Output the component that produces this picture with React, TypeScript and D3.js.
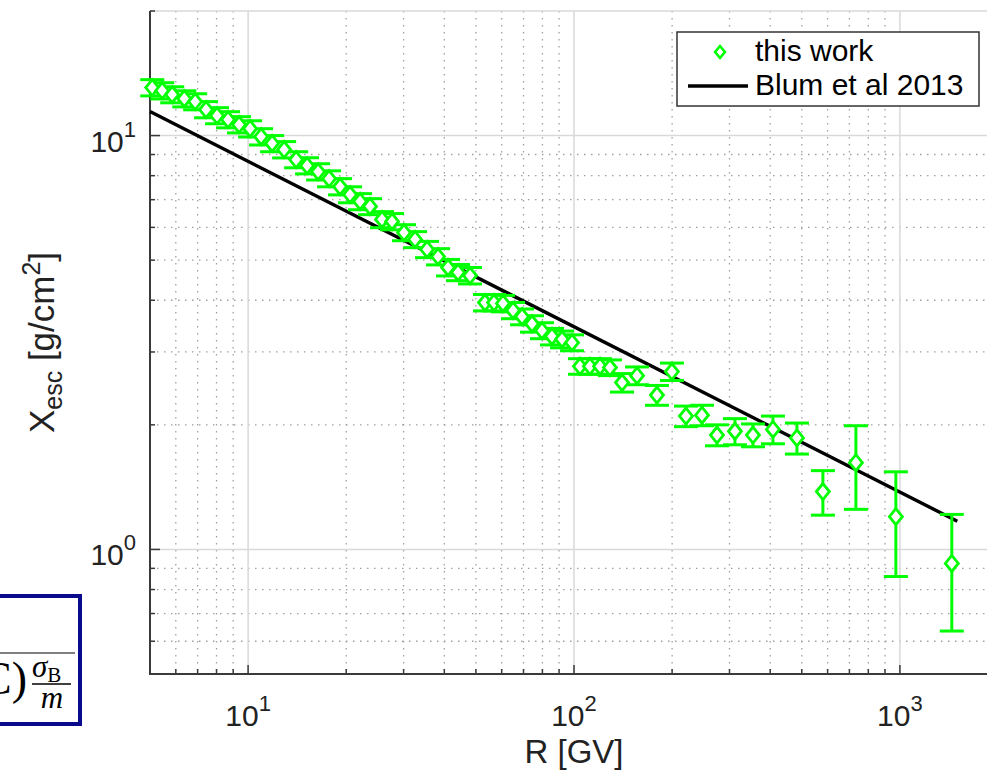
import React from "react";
import * as d3 from "d3";

// rigidity bins [GV], escape grammage [g/cm^2] and its error
const rigidity = [
  5.08, 5.45, 5.85, 6.37, 6.88, 7.43, 8.03, 8.68, 9.38, 10.14,
  10.96, 11.85, 12.9, 14.04, 15.17, 16.4, 17.72, 19.15, 20.55, 22.06,
  23.66, 25.76, 27.65, 30.09, 32.53, 35.41, 38.27, 41.07, 44.07, 47.97,
  53.33, 56.83, 60.55, 65.01, 69.27, 74.33, 79.77, 85.59, 91.88, 98.6,
  104.3, 111.9, 120.2, 128.9, 140.4, 156.1, 179.7, 199.7, 220.6, 247.0,
  274.6, 311.8, 354.1, 407.8, 483.1, 580.4, 732.8, 971.9, 1443,
];
const xesc = [
  13.06, 12.84, 12.56, 12.28, 12.08, 11.56, 11.18, 10.93, 10.63, 10.39,
  9.94, 9.57, 9.25, 8.75, 8.46, 8.18, 7.87, 7.53, 7.2, 6.93,
  6.74, 6.27, 6.2, 5.83, 5.61, 5.31, 5.1, 4.8, 4.67, 4.59,
  3.95, 3.95, 3.93, 3.78, 3.65, 3.51, 3.38, 3.27, 3.22, 3.16,
  2.77, 2.77, 2.77, 2.75, 2.53, 2.63, 2.36, 2.69, 2.1, 2.11,
  1.89, 1.93, 1.89, 1.95, 1.86, 1.38, 1.62, 1.2, 0.925,
];
const xescErr = [
  0.59, 0.58, 0.56, 0.55, 0.54, 0.52, 0.5, 0.49, 0.48, 0.47,
  0.45, 0.43, 0.42, 0.39, 0.38, 0.37, 0.35, 0.34, 0.32, 0.31,
  0.3, 0.28, 0.28, 0.26, 0.25, 0.24, 0.23, 0.22, 0.21, 0.21,
  0.18, 0.18, 0.18, 0.17, 0.16, 0.16, 0.15, 0.15, 0.15, 0.14,
  0.12, 0.12, 0.12, 0.12, 0.13, 0.13, 0.13, 0.13, 0.12, 0.12,
  0.11, 0.14, 0.12, 0.15, 0.16, 0.17, 0.37, 0.34, 0.29,
];

// Blum et al 2013 power law, end points
const blumR = [5, 1500];
const blumX = [11.43, 1.17];

const xMajor = [10, 100, 1000];
const xMinor = [6, 7, 8, 9, 20, 30, 40, 50, 60, 70, 80, 90, 200, 300, 400, 500, 600, 700, 800, 900];
const yMajor = [1, 10];
const yMinor = [0.6, 0.7, 0.8, 0.9, 2, 3, 4, 5, 6, 7, 8, 9];

const W = 987;
const H = 771;
const left = 150, right = 998, top = 11, bottom = 674;
const font = "'Liberation Sans', Arial, Helvetica, sans-serif";
const serif = "'Liberation Serif', 'Times New Roman', serif";
const green = "#00ff00";
const axisCol = "#3a3a3a";
const gridMajor = "#d9d9d9";
const gridMinor = "#a0a0a0";

const App = () => {
  const x = d3.scaleLog().domain([5, 2000]).range([left, right]);
  const y = d3.scaleLog().domain([0.5, 20]).range([bottom, top]);

  const line = d3.line<number>()
    .x((d, i) => x(blumR[i]))
    .y((d) => y(d));

  const diamond = (cx, cy, s = 1) =>
    `M${cx},${cy - 8 * s} L${cx + 6.5 * s},${cy} L${cx},${cy + 8 * s} L${cx - 6.5 * s},${cy} Z`;

  return (
    <div style={{ position: "absolute", left: 0, top: 0 }}>
      <svg width={W} height={H} style={{ display: "block", background: "#fff" }}>
        {/* grid */}
        {xMinor.map((v) => (
          <line key={"gx" + v} x1={x(v)} x2={x(v)} y1={top} y2={bottom}
            stroke={gridMinor} strokeWidth={1.3} strokeDasharray="1.5 5.5" />
        ))}
        {yMinor.map((v) => (
          <line key={"gy" + v} x1={left} x2={W} y1={y(v)} y2={y(v)}
            stroke={gridMinor} strokeWidth={1.3} strokeDasharray="1.5 5.5" />
        ))}
        {xMajor.map((v) => (
          <line key={"GX" + v} x1={x(v)} x2={x(v)} y1={top} y2={bottom}
            stroke={gridMajor} strokeWidth={1.5} />
        ))}
        {yMajor.map((v) => (
          <line key={"GY" + v} x1={left} x2={W} y1={y(v)} y2={y(v)}
            stroke={gridMajor} strokeWidth={1.5} />
        ))}
        <line x1={left} x2={W} y1={top} y2={top} stroke={gridMajor} strokeWidth={1.5} />

        {/* axes + inward ticks */}
        <line x1={left} x2={left} y1={top} y2={bottom + 1} stroke={axisCol} strokeWidth={2} />
        <line x1={left - 1} x2={W} y1={bottom} y2={bottom} stroke={axisCol} strokeWidth={2} />
        {xMinor.map((v) => (
          <line key={"tx" + v} x1={x(v)} x2={x(v)} y1={bottom} y2={bottom - 5} stroke={axisCol} strokeWidth={1.5} />
        ))}
        {xMajor.map((v) => (
          <line key={"TX" + v} x1={x(v)} x2={x(v)} y1={bottom} y2={bottom - 9} stroke={axisCol} strokeWidth={1.5} />
        ))}
        {yMinor.concat([20]).map((v) => (
          <line key={"ty" + v} x1={left} x2={left + 5} y1={y(v)} y2={y(v)} stroke={axisCol} strokeWidth={1.5} />
        ))}
        {yMajor.map((v) => (
          <line key={"TY" + v} x1={left} x2={left + 10} y1={y(v)} y2={y(v)} stroke={axisCol} strokeWidth={1.5} />
        ))}

        {/* tick labels */}
        {xMajor.map((v) => (
          <text key={"lx" + v} x={x(v)} y={726} textAnchor="middle" fontFamily={font} fontSize={30} fill="#222">
            10<tspan fontSize={22} dy={-15}>{Math.round(Math.log10(v))}</tspan>
          </text>
        ))}
        {yMajor.map((v) => (
          <text key={"ly" + v} x={136} y={y(v) + 16} textAnchor="end" fontFamily={font} fontSize={30} fill="#222">
            10<tspan fontSize={22} dy={-15}>{Math.round(Math.log10(v))}</tspan>
          </text>
        ))}

        {/* Blum et al 2013 */}
        <path d={line(blumX) || ""} fill="none" stroke="#000" strokeWidth={3.4} />

        {/* this work: error bars then diamonds */}
        {rigidity.map((r, i) => {
          const cx = x(r);
          const y0 = y(xesc[i] - xescErr[i]);
          const y1 = y(xesc[i] + xescErr[i]);
          return (
            <g key={"e" + i} stroke={green} strokeWidth={3}>
              <line x1={cx} x2={cx} y1={y0} y2={y1} />
              <line x1={cx - 12} x2={cx + 12} y1={y0} y2={y0} />
              <line x1={cx - 12} x2={cx + 12} y1={y1} y2={y1} />
            </g>
          );
        })}
        {rigidity.map((r, i) => (
          <path key={"d" + i} d={diamond(x(r), y(xesc[i]))} fill="#fff" stroke={green} strokeWidth={2.8} />
        ))}

        {/* legend */}
        <rect x={677} y={32} width={302} height={74} fill="#fff" stroke="#333" strokeWidth={1.5} />
        <path d={diamond(720, 52, 0.75)} fill="#fff" stroke={green} strokeWidth={2.6} />
        <line x1={688} x2={748} y1={86} y2={86} stroke="#000" strokeWidth={3.4} />
        <text x={755} y={61} fontFamily={font} fontSize={30} fill="#000">this work</text>
        <text x={755} y={95} fontFamily={font} fontSize={30} fill="#000">Blum et al 2013</text>

        {/* axis labels */}
        <text x={574} y={763} textAnchor="middle" fontFamily={font} fontSize={33} fill="#222">R [GV]</text>
        <text transform={`translate(54,${(top + bottom) / 2}) rotate(-90)`} textAnchor="middle"
          fontFamily={font} fontSize={35} fill="#222">
          X<tspan fontSize={25} dy={8}>esc</tspan><tspan dy={-8}> [g/cm</tspan>
          <tspan fontSize={25} dy={-14}>2</tspan><tspan dy={14}>]</tspan>
        </text>

        {/* cropped formula box */}
        <rect x={-4} y={596} width={84} height={128} fill="#fff" stroke="#0a0a8c" strokeWidth={4} />
        <line x1={0} x2={75} y1={653} y2={653} stroke="#000" strokeWidth={1.2} />
        <text x={27} y={694} textAnchor="end" fontFamily={serif} fontSize={46} fill="#000">C)</text>
        <text x={32} y={677} fontFamily={serif} fontSize={31} fontStyle="italic" fill="#000">
          σ<tspan fontStyle="normal" fontSize={21} dy={5}>B</tspan>
        </text>
        <line x1={32} x2={71} y1={684} y2={684} stroke="#000" strokeWidth={1.3} />
        <text x={52} y={708} textAnchor="middle" fontFamily={serif} fontSize={31} fontStyle="italic" fill="#000">m</text>
      </svg>
    </div>
  );
};

export default App;
